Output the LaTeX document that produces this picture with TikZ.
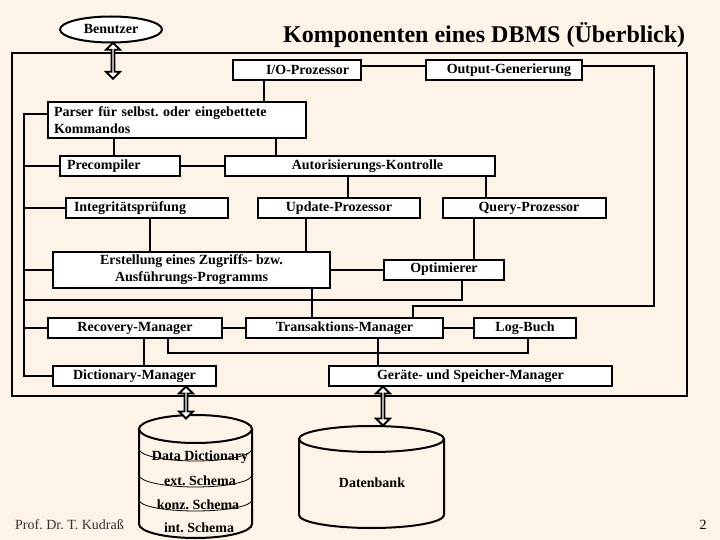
\documentclass[tikz,border=0pt]{standalone}
\usepackage{fontspec}
\setmainfont{Liberation Serif}
\usetikzlibrary{shapes.geometric,shapes.arrows,calc}
\definecolor{bgc}{RGB}{253,243,231}
\frenchspacing
\begin{document}
\begin{tikzpicture}[x=1pt,y=-1pt,
  box/.style={draw, line width=2pt, fill=white, inner sep=0pt, minimum height=20pt, font=\fontsize{14}{17}\selectfont\bfseries},
  lbl/.style={inner sep=0pt, font=\fontsize{14}{17}\selectfont\bfseries},
  conn/.style={line width=2pt},
  dbl/.style={double arrow, draw, fill=white, line width=1.8pt, inner sep=0pt, minimum width=14pt, double arrow head extend=3.5pt, rotate=90},
  cyl/.style={line width=2pt},
  thinarc/.style={line width=0.8pt}
]
\fill[bgc] (0,0) rectangle (720,540);
\useasboundingbox (0,0) rectangle (720,540);

% title and frame
\node[anchor=base west, inner sep=0pt, font=\fontsize{24}{28}\selectfont\bfseries] (title) at (283,43) {Komponenten eines DBMS (Überblick)};
\draw[conn] (12,53) rectangle (687,396);

% user
\node[draw, ellipse, line width=2pt, fill=white, minimum width=102pt, minimum height=26pt, inner sep=0pt, font=\fontsize{14}{17}\selectfont\bfseries] (ben) at (111,29.5) {Benutzer};

% boxes
\node[box, minimum width=128pt] (io) at (297,70) {};
\node[lbl] (iot) at (307.5,70) {I/O-Prozessor};
\node[box, minimum width=156pt] (out) at (504,70) {};
\node[lbl] (outt) at (509,70) {Output-Generierung};
\node[box, minimum height=36pt, text width=246pt, inner xsep=6pt, align=left] (parser) at (177,120) {Parser für selbst. oder eingebettete\\Kommandos};
\node[box, text width=106pt, inner xsep=7pt, align=left] (pre) at (120,166) {Precompiler};
\node[box, minimum width=270pt] (auth) at (360,166) {};
\node[lbl] (autht) at (367.5,166) {Autorisierungs-Kontrolle};
\node[box, text width=146pt, inner xsep=8pt, align=left] (integ) at (147,208) {Integritätsprüfung};
\node[box, minimum width=162pt] (upd) at (339,208) {Update-Prozessor};
\node[box, minimum width=163pt] (query) at (524.5,208) {};
\node[lbl] (queryt) at (529,208) {Query-Prozessor};
\node[box, minimum width=277pt, minimum height=36pt, align=center] (erst) at (191.5,270) {Erstellung eines Zugriffs- bzw.\\Ausführungs-Programms};
\node[box, minimum width=120pt] (opt) at (444,269.5) {Optimierer};
\node[box, minimum width=174pt] (rec) at (135,328) {Recovery-Manager};
\node[box, minimum width=197pt] (trans) at (344.5,328) {Transaktions-Manager};
\node[box, minimum width=102pt] (log) at (525,328) {Log-Buch};
\node[box, minimum width=163pt] (dict) at (134.5,376) {Dictionary-Manager};
\node[box, minimum width=283pt] (ger) at (470.5,376) {Geräte- und Speicher-Manager};

% connectors
\draw[conn] (io.east |- 0,66) -- (out.west |- 0,66);
\draw[conn] (out.east |- 0,66) -- (654,66) -- (654,306) -- (413,306) -- (413,0 |- trans.north);
\draw[conn] (264,0 |- io.south) -- (264,0 |- parser.north);
\draw[conn] (parser.west |- 0,114) -- (24,114) -- (24,0 |- dict.west) -- (dict.west);
\draw[conn] (24,0 |- pre.west) -- (pre.west);
\draw[conn] (24,0 |- integ.west) -- (integ.west);
\draw[conn] (24,0 |- erst.west) -- (erst.west);
\draw[conn] (24,300) -- (462,300) -- (462,0 |- opt.south);
\draw[conn] (24,0 |- rec.west) -- (rec.west);
\draw[conn] (114,0 |- parser.south) -- (114,0 |- pre.north);
\draw[conn] (276,0 |- parser.south) -- (276,0 |- auth.north);
\draw[conn] (pre.east) -- (auth.west);
\draw[conn] (348,0 |- auth.south) -- (348,0 |- upd.north);
\draw[conn] (486,0 |- auth.south) -- (486,0 |- query.north);
\draw[conn] (150,0 |- integ.south) -- (150,0 |- erst.north);
\draw[conn] (306,0 |- upd.south) -- (306,0 |- erst.north);
\draw[conn] (474,0 |- query.south) -- (474,0 |- opt.north);
\draw[conn] (erst.east |- opt.west) -- (opt.west);
\draw[conn] (312,0 |- erst.south) -- (312,0 |- trans.north);
\draw[conn] (rec.east) -- (trans.west);
\draw[conn] (trans.east) -- (log.west);
\draw[conn] (144,0 |- rec.south) -- (144,0 |- dict.north);
\draw[conn] (168,0 |- rec.south) -- (168,353) -- (528,353) -- (528,0 |- log.south);
\draw[conn] (378,0 |- trans.south) -- (378,0 |- ger.north);

% cylinders
\draw[cyl] (139,429) -- (139,524) arc[start angle=180, end angle=0, x radius=56.5, y radius=14] -- (252,429);
\draw[cyl] (195.5,429) ellipse [x radius=56.5, y radius=14];
\draw[thinarc] (139,449) arc[start angle=180, end angle=0, x radius=56.5, y radius=12];
\draw[thinarc] (139,475) arc[start angle=180, end angle=0, x radius=56.5, y radius=12];
\draw[thinarc] (139,500) arc[start angle=180, end angle=0, x radius=56.5, y radius=11];
\node[lbl] (dd1) at (200,457) {Data Dictionary};
\node[lbl] (dd2) at (200,481) {ext. Schema};
\node[lbl] (dd3) at (198,505) {konz. Schema};
\node[lbl] (dd4) at (199,528) {int. Schema};
\coordinate (ddtop) at (186,418);

\draw[cyl] (299,439) -- (299,515) arc[start angle=180, end angle=0, x radius=72.5, y radius=13] -- (444,439);
\draw[cyl] (371.5,439) ellipse [x radius=72.5, y radius=13];
\node[lbl] (db) at (372,483) {Datenbank};
\coordinate (dbtop) at (383,425);
\coordinate (iotop) at (113,78);

% double arrows
\node[dbl, minimum height=36pt] (a1) at ($(ben.south)!0.5!(iotop)+(1,0)$) {};
\node[dbl, minimum height=32pt] (a2) at ($(dict.south -| ddtop)!0.5!(ddtop)$) {};
\node[dbl, minimum height=39pt] (a3) at ($(ger.south -| dbtop)!0.5!(dbtop)$) {};

% footer
\node[anchor=base west, inner sep=0pt, font=\fontsize{14}{16}\selectfont, text=black!80] (prof) at (15,529) {Prof. Dr. T. Kudraß};
\node[anchor=base, inner sep=0pt, font=\fontsize{14}{16}\selectfont] (pg) at (703,529) {2};
\end{tikzpicture}
\end{document}
